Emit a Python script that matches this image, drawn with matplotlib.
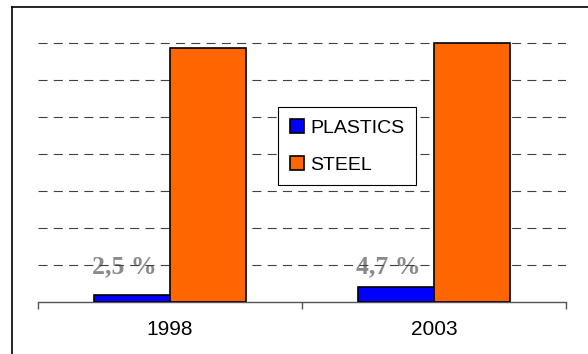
import numpy as np
import matplotlib.pyplot as plt
from matplotlib.lines import Line2D

plt.rcParams["font.family"] = ["Liberation Sans", "DejaVu Sans"]
plt.rcParams["lines.scale_dashes"] = False

years = ["1998", "2003"]
plastics = [0.18, 0.41]
steel = [6.88, 7.0]
shares = ["2,5 %", "4,7 %"]
grid_levels = [1, 2, 3, 4, 5, 6, 7]

BLUE = "#0000FF"
ORANGE = "#FF6600"
W = 0.288

fig = plt.figure(figsize=(5.88, 3.54), dpi=100)
ax = fig.add_axes([0.0646, 0.1477, 0.898, 0.8342])

x = np.arange(len(years))
ax.bar(x - W / 2, plastics, W, color=BLUE, edgecolor="black", linewidth=1.2,
       label="PLASTICS", zorder=3)
ax.bar(x + W / 2, steel, W, color=ORANGE, edgecolor="black", linewidth=1.2,
       label="STEEL", zorder=3)

for xi, s in zip(x, shares):
    ax.text(xi - W / 2 - 0.028, 0.78, s, ha="center", va="baseline",
            fontsize=18.5, fontweight="bold", color="#8a8a8a",
            family="Liberation Serif", zorder=1)

# dashed lines sit over the labels, like in the original
for lv in grid_levels:
    ax.axhline(lv, color="#404040", linewidth=0.8, dashes=(6.5, 4.5), zorder=2)

ax.set_xlim(-0.5, 1.5)
ax.set_ylim(0, 8)
for side in ["top", "right", "left"]:
    ax.spines[side].set_visible(False)
ax.spines["bottom"].set_color("#555555")
ax.spines["bottom"].set_linewidth(1.0)
ax.set_yticks([])
ax.set_xticks(x, years)
ax.set_xticks([-0.5, 0.5, 1.5], minor=True)
ax.tick_params(axis="x", which="major", length=0, pad=13, labelsize=15)
ax.tick_params(axis="x", which="minor", length=5, width=1.0, color="#555555")

leg = ax.legend(loc="upper left", bbox_to_anchor=(0.4545, 0.659),
                borderaxespad=0, fontsize=14, frameon=True, fancybox=False,
                edgecolor="black", framealpha=1, handlelength=0.75,
                handleheight=0.72, handletextpad=0.3, labelspacing=1.0,
                borderpad=0.6)
leg.get_frame().set_linewidth(0.8)

# outer chart frame
fig.add_artist(Line2D([12 / 588, 12 / 588], [-0.1, 1 - 7 / 354],
                      transform=fig.transFigure, color="black", linewidth=1.2))
fig.add_artist(Line2D([12 / 588, 1.1], [1 - 7 / 354, 1 - 7 / 354],
                      transform=fig.transFigure, color="black", linewidth=1.2))

fig.savefig("out.png", dpi=100)
